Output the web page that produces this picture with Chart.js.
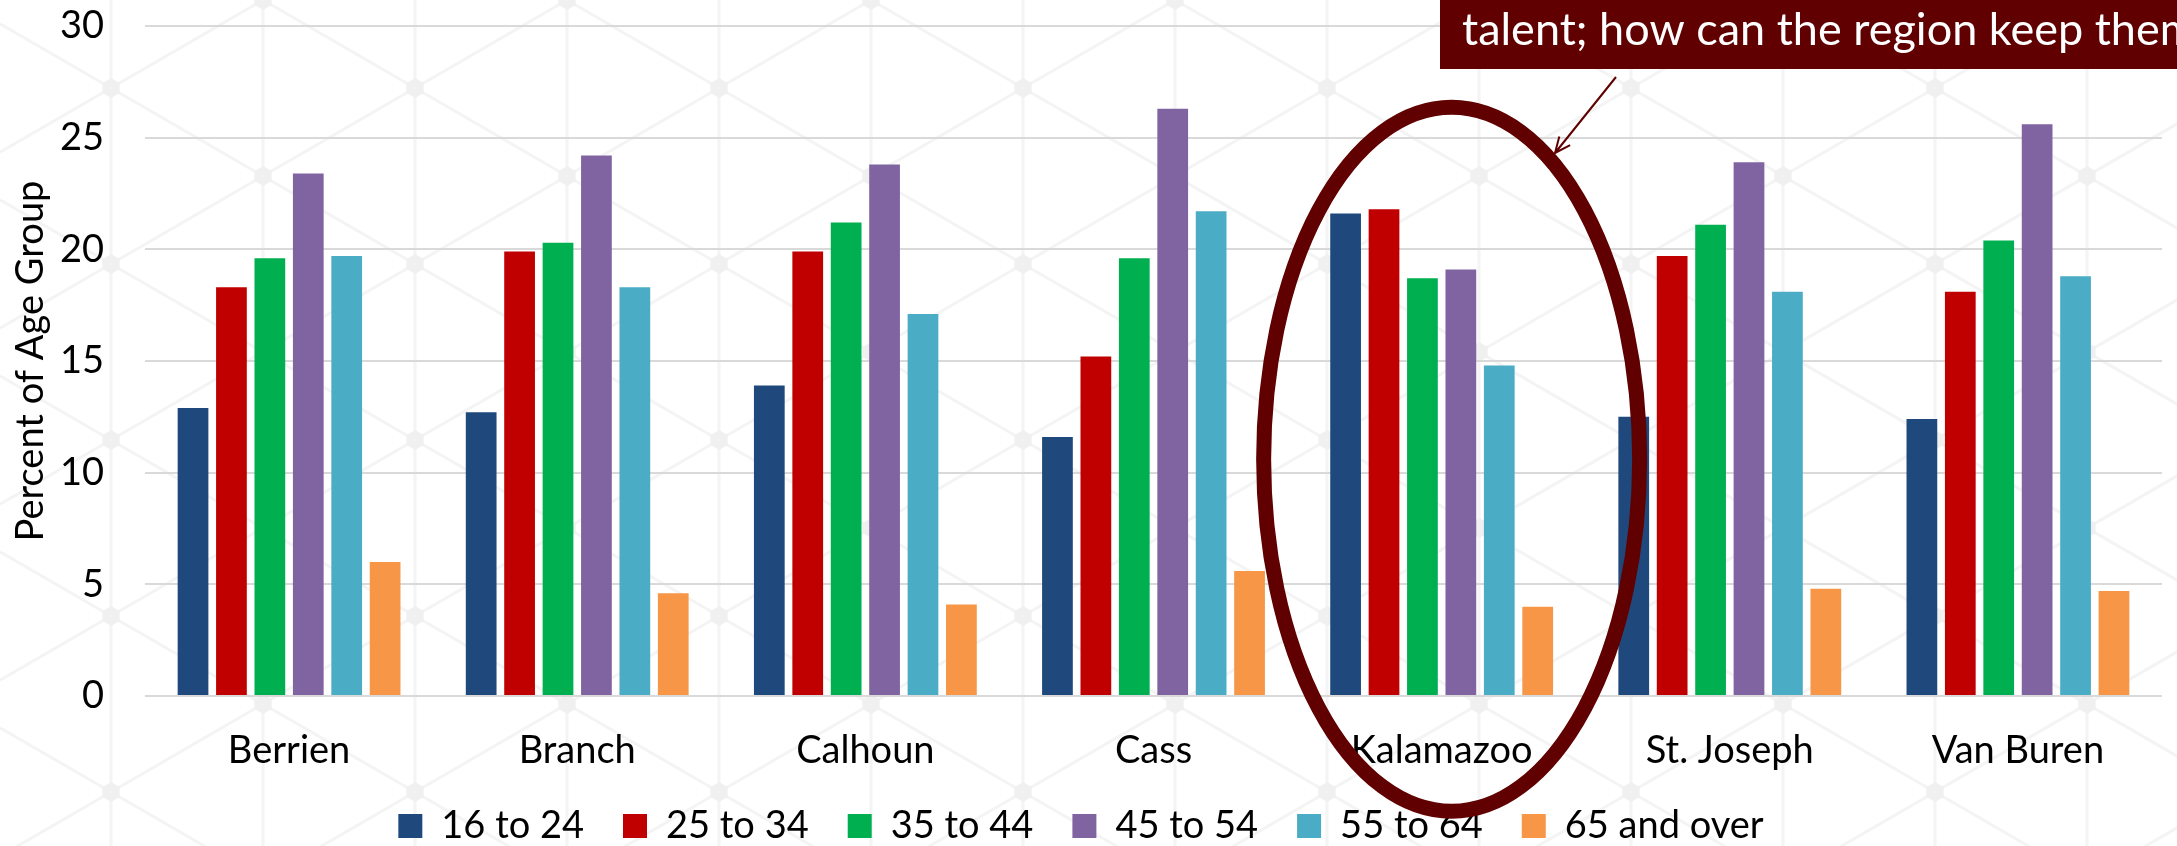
<!DOCTYPE html>
<html>
<head>
<meta charset="utf-8">
<title>Percent of Age Group by County</title>
<script src="https://cdn.jsdelivr.net/npm/chart.js@4.4.1/dist/chart.umd.min.js"></script>
<style>
  html, body { margin: 0; padding: 0; background: #fff; overflow: hidden; }
  canvas { display: block; }
</style>
</head>
<body>
<canvas id="chart" width="2177" height="846"></canvas>
<script>
// ---- data ----
const counties = ['Berrien', 'Branch', 'Calhoun', 'Cass', 'Kalamazoo', 'St. Joseph', 'Van Buren'];
const seriesNames = ['16 to 24', '25 to 34', '35 to 44', '45 to 54', '55 to 64', '65 and over'];
const age16to24 = [12.9, 12.7, 13.9, 11.6, 21.6, 12.5, 12.4];
const age25to34 = [18.3, 19.9, 19.9, 15.2, 21.8, 19.7, 18.1];
const age35to44 = [19.6, 20.3, 21.2, 19.6, 18.7, 21.1, 20.4];
const age45to54 = [23.4, 24.2, 23.8, 26.3, 19.1, 23.9, 25.6];
const age55to64 = [19.7, 18.3, 17.1, 21.7, 14.8, 18.1, 18.8];
const age65plus = [6.0, 4.6, 4.1, 5.6, 4.0, 4.8, 4.7];
const yTickValues = [0, 5, 10, 15, 20, 25, 30];
const yTitle = 'Percent of Age Group';
const calloutText = 'talent; how can the region keep them';

// ---- styling ----
const seriesColors = ['#1F497D', '#C00000', '#00B050', '#8064A2', '#4BACC6', '#F79646'];
const seriesValues = [age16to24, age25to34, age35to44, age45to54, age55to64, age65plus];
const FONT = 'Lato, "Open Sans", sans-serif';
const MAROON = '#600000';

Chart.defaults.font.family = FONT;
Chart.defaults.color = '#000';

// faint isometric lattice behind the chart
const latticeBackground = {
  id: 'latticeBackground',
  beforeDraw(chart) {
    const { ctx, width, height } = chart;
    const dx = 152, dy = 88, x0 = 111, y0 = 88;
    const slope = dy / dx;
    ctx.save();
    ctx.fillStyle = '#ffffff';
    ctx.fillRect(0, 0, width, height);
    ctx.strokeStyle = '#f4f4f4';
    ctx.lineWidth = 3;
    ctx.beginPath();
    for (let k = -1; x0 + k * dx <= width + dx; k++) {
      const x = x0 + k * dx;
      ctx.moveTo(x, 0);
      ctx.lineTo(x, height);
    }
    for (let m = -20; m <= 20; m++) {
      const c = y0 + m * 2 * dy;
      ctx.moveTo(0, c + slope * (0 - x0));
      ctx.lineTo(width, c + slope * (width - x0));
      ctx.moveTo(0, c - slope * (0 - x0));
      ctx.lineTo(width, c - slope * (width - x0));
    }
    ctx.stroke();
    ctx.fillStyle = '#f0f0f0';
    for (let k = -1; x0 + k * dx <= width + dx; k++) {
      const x = x0 + k * dx;
      const off = (Math.abs(k) % 2 === 1) ? y0 - dy : y0;
      for (let j = -1; off + j * 2 * dy <= height + dy; j++) {
        const y = off + j * 2 * dy;
        ctx.beginPath();
        for (let a = 0; a < 6; a++) {
          const ang = Math.PI / 6 + a * Math.PI / 3;
          const px = x + 10 * Math.cos(ang), py = y + 10 * Math.sin(ang);
          if (a === 0) ctx.moveTo(px, py); else ctx.lineTo(px, py);
        }
        ctx.closePath();
        ctx.fill();
      }
    }
    ctx.restore();
  }
};

// let the category labels use the full band under the axis, and drop the legend row a little
const bottomBand = {
  id: 'bottomBand',
  afterLayout(chart) {
    const xs = chart.scales.x;
    xs.bottom = xs.top + 100;
    xs.height = 100;
    const lg = chart.legend;
    if (lg) { lg.top += 9; lg.bottom += 9; }
  }
};

// callout: ellipse round Kalamazoo, arrow and the maroon banner
const callout = {
  id: 'callout',
  afterDraw(chart) {
    const { ctx, scales: { x, y } } = chart;
    const cx = x.getPixelForValue(4) + 10;
    const cy = y.getPixelForValue(10.6);
    ctx.save();
    ctx.strokeStyle = MAROON;
    ctx.lineWidth = 15;
    ctx.beginPath();
    ctx.ellipse(cx, cy, 188, 352, 0, 0, Math.PI * 2);
    ctx.stroke();

    // arrow
    const sx = 1616, sy = 77, tx = 1555, ty = 153;
    ctx.lineWidth = 2;
    ctx.beginPath();
    ctx.moveTo(sx, sy);
    ctx.lineTo(tx, ty);
    const ang = Math.atan2(sy - ty, sx - tx);
    const head = 17, spread = 0.42;
    ctx.moveTo(tx + head * Math.cos(ang + spread), ty + head * Math.sin(ang + spread));
    ctx.lineTo(tx, ty);
    ctx.lineTo(tx + head * Math.cos(ang - spread), ty + head * Math.sin(ang - spread));
    ctx.stroke();

    // banner
    ctx.fillStyle = MAROON;
    ctx.fillRect(1440, 0, chart.width - 1440, 69);
    ctx.fillStyle = '#ffffff';
    ctx.font = '45px ' + FONT;
    ctx.textBaseline = 'alphabetic';
    ctx.textAlign = 'left';
    ctx.fillText(calloutText, 1462, 45);
    ctx.restore();
  }
};

new Chart(document.getElementById('chart'), {
  type: 'bar',
  data: {
    labels: counties,
    datasets: seriesNames.map((name, i) => ({
      label: name,
      data: seriesValues[i],
      backgroundColor: seriesColors[i],
      borderWidth: 0,
      categoryPercentage: 0.80,
      barPercentage: 0.80
    }))
  },
  options: {
    responsive: false,
    animation: false,
    devicePixelRatio: 1,
    layout: { padding: { top: 26, right: 15, bottom: 0, left: 0 } },
    plugins: {
      legend: {
        position: 'bottom',
        align: 'center',
        labels: {
          font: { size: 38 },
          color: '#000',
          boxWidth: 24,
          boxHeight: 24,
          padding: 39
        }
      },
      tooltip: { enabled: false }
    },
    scales: {
      x: {
        grid: { display: false, drawTicks: false },
        border: { display: false },
        ticks: { font: { size: 38 }, color: '#000', padding: 32, maxRotation: 0 },
        afterFit(scale) {
          scale.height = 63;
          scale.paddingLeft = 0;
          scale.paddingRight = 0;
        }
      },
      y: {
        min: 0,
        max: 30,
        afterBuildTicks(scale) { scale.ticks = yTickValues.map(v => ({ value: v })); },
        grid: { color: '#d9d9d9', lineWidth: 2, drawTicks: false },
        border: { display: false },
        ticks: { font: { size: 38 }, color: '#000', padding: 41 },
        title: {
          display: true,
          text: yTitle,
          font: { size: 38 },
          color: '#000',
          padding: { top: 8, bottom: 0 }
        },
        afterFit(scale) {
          scale.width = 145;
          scale.paddingTop = 0;
          scale.paddingBottom = 0;
        }
      }
    }
  },
  plugins: [latticeBackground, bottomBand, callout]
});
</script>
</body>
</html>
